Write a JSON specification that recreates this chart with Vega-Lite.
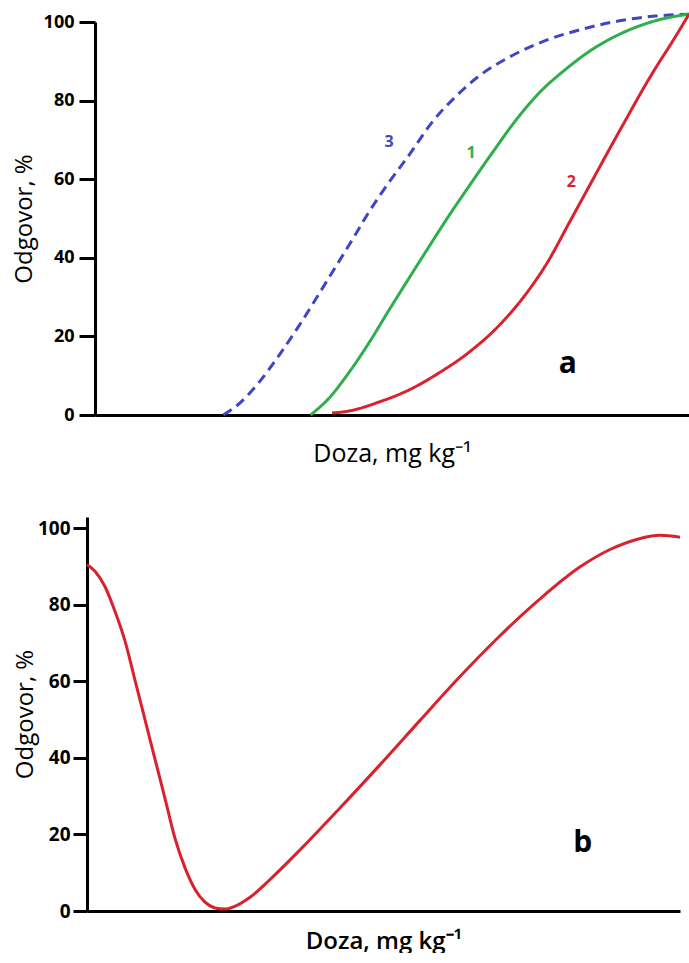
{
  "$schema": "https://vega.github.io/schema/vega-lite/v6.json",
  "background": "white",
  "padding": {"left": 12, "top": 8, "right": 0, "bottom": 0},
  "config": {
    "view": {"stroke": null},
    "font": "Open Sans",
    "axis": {"grid": false, "domainColor": "#000", "domainWidth": 3, "tickColor": "#000", "tickWidth": 3, "labelColor": "#000", "titleColor": "#000", "labelFont": "Open Sans", "titleFont": "Open Sans"}
  },
  "datasets": {
    "curvesA": [
      {"krivulja": "3", "doza": 21.6, "odgovor": 0},
      {"krivulja": "3", "doza": 24.2, "odgovor": 2.8},
      {"krivulja": "3", "doza": 27.5, "odgovor": 8.1},
      {"krivulja": "3", "doza": 30.9, "odgovor": 15.0},
      {"krivulja": "3", "doza": 34.3, "odgovor": 22.6},
      {"krivulja": "3", "doza": 37.7, "odgovor": 30.8},
      {"krivulja": "3", "doza": 41.0, "odgovor": 38.9},
      {"krivulja": "3", "doza": 43.6, "odgovor": 45.3},
      {"krivulja": "3", "doza": 45.6, "odgovor": 50.4},
      {"krivulja": "3", "doza": 48.6, "odgovor": 57.3},
      {"krivulja": "3", "doza": 52.9, "odgovor": 66.2},
      {"krivulja": "3", "doza": 56.8, "odgovor": 74.6},
      {"krivulja": "3", "doza": 60.5, "odgovor": 80.7},
      {"krivulja": "3", "doza": 64.7, "odgovor": 86.3},
      {"krivulja": "3", "doza": 69.8, "odgovor": 91.1},
      {"krivulja": "3", "doza": 75.7, "odgovor": 95.2},
      {"krivulja": "3", "doza": 81.6, "odgovor": 98.0},
      {"krivulja": "3", "doza": 88.3, "odgovor": 100.3},
      {"krivulja": "3", "doza": 94.3, "odgovor": 101.5},
      {"krivulja": "3", "doza": 100, "odgovor": 102.0},
      {"krivulja": "1", "doza": 36.3, "odgovor": 0},
      {"krivulja": "1", "doza": 39.4, "odgovor": 4.3},
      {"krivulja": "1", "doza": 42.7, "odgovor": 10.7},
      {"krivulja": "1", "doza": 46.1, "odgovor": 18.3},
      {"krivulja": "1", "doza": 49.5, "odgovor": 26.7},
      {"krivulja": "1", "doza": 52.9, "odgovor": 34.9},
      {"krivulja": "1", "doza": 56.3, "odgovor": 43.0},
      {"krivulja": "1", "doza": 59.1, "odgovor": 49.6},
      {"krivulja": "1", "doza": 63.0, "odgovor": 58.3},
      {"krivulja": "1", "doza": 67.2, "odgovor": 67.4},
      {"krivulja": "1", "doza": 70.9, "odgovor": 75.1},
      {"krivulja": "1", "doza": 74.8, "odgovor": 82.0},
      {"krivulja": "1", "doza": 79.1, "odgovor": 87.8},
      {"krivulja": "1", "doza": 84.1, "odgovor": 93.4},
      {"krivulja": "1", "doza": 89.2, "odgovor": 97.5},
      {"krivulja": "1", "doza": 94.3, "odgovor": 100.3},
      {"krivulja": "1", "doza": 100, "odgovor": 102.0},
      {"krivulja": "2", "doza": 39.9, "odgovor": 0.5},
      {"krivulja": "2", "doza": 42.7, "odgovor": 1.0},
      {"krivulja": "2", "doza": 47.8, "odgovor": 3.3},
      {"krivulja": "2", "doza": 52.9, "odgovor": 6.4},
      {"krivulja": "2", "doza": 57.9, "odgovor": 10.7},
      {"krivulja": "2", "doza": 63.0, "odgovor": 16.0},
      {"krivulja": "2", "doza": 68.1, "odgovor": 22.9},
      {"krivulja": "2", "doza": 72.3, "odgovor": 30.3},
      {"krivulja": "2", "doza": 76.2, "odgovor": 38.9},
      {"krivulja": "2", "doza": 79.9, "odgovor": 49.1},
      {"krivulja": "2", "doza": 83.3, "odgovor": 58.5},
      {"krivulja": "2", "doza": 86.7, "odgovor": 67.9},
      {"krivulja": "2", "doza": 89.5, "odgovor": 75.5},
      {"krivulja": "2", "doza": 92.1, "odgovor": 82.5},
      {"krivulja": "2", "doza": 94.5, "odgovor": 88.6},
      {"krivulja": "2", "doza": 96.7, "odgovor": 93.8},
      {"krivulja": "2", "doza": 98.5, "odgovor": 98.2},
      {"krivulja": "2", "doza": 100, "odgovor": 102.0}
    ],
    "labelsA": [
      {"krivulja": "3", "doza": 49.5, "odgovor": 69.5},
      {"krivulja": "1", "doza": 63.3, "odgovor": 66.7},
      {"krivulja": "2", "doza": 80.2, "odgovor": 59.3}
    ],
    "panelA": [{"oznaka": "a", "doza": 79.6, "odgovor": 13.0}],
    "curveB": [
      {"doza": 0, "odgovor": 90.6},
      {"doza": 1.35, "odgovor": 88.8},
      {"doza": 3.0, "odgovor": 84.9},
      {"doza": 4.7, "odgovor": 78.4},
      {"doza": 6.4, "odgovor": 70.6},
      {"doza": 8.1, "odgovor": 60.3},
      {"doza": 9.8, "odgovor": 49.9},
      {"doza": 11.5, "odgovor": 39.5},
      {"doza": 13.2, "odgovor": 29.1},
      {"doza": 14.8, "odgovor": 19.2},
      {"doza": 16.5, "odgovor": 11.4},
      {"doza": 18.2, "odgovor": 5.7},
      {"doza": 19.9, "odgovor": 2.3},
      {"doza": 21.6, "odgovor": 0.8},
      {"doza": 23.3, "odgovor": 0.5},
      {"doza": 25.0, "odgovor": 1.3},
      {"doza": 27.5, "odgovor": 3.6},
      {"doza": 30.9, "odgovor": 8.3},
      {"doza": 36.0, "odgovor": 16.1},
      {"doza": 42.7, "odgovor": 27.0},
      {"doza": 49.4, "odgovor": 38.2},
      {"doza": 56.2, "odgovor": 49.9},
      {"doza": 62.9, "odgovor": 61.3},
      {"doza": 69.6, "odgovor": 71.9},
      {"doza": 76.4, "odgovor": 81.6},
      {"doza": 83.1, "odgovor": 89.9},
      {"doza": 88.2, "odgovor": 94.5},
      {"doza": 93.3, "odgovor": 97.4},
      {"doza": 96.6, "odgovor": 98.2},
      {"doza": 100, "odgovor": 97.7}
    ],
    "panelB": [{"oznaka": "b", "doza": 83.6, "odgovor": 17.9}]
  },
  "vconcat": [
    {
      "width": 602,
      "height": 393,
      "layer": [
        {
          "data": {"name": "curvesA"},
          "mark": {"type": "line", "strokeWidth": 3, "interpolate": "monotone"},
          "encoding": {
            "x": {"field": "doza", "type": "quantitative", "scale": {"domain": [0, 100], "range": [8, 602]},
              "axis": {"labels": false, "ticks": false, "title": "Doza, mg kg⁻¹", "titleFontSize": 25, "titleFontWeight": "normal", "titlePadding": 26}},
            "y": {"field": "odgovor", "type": "quantitative", "scale": {"domain": [0, 100]},
              "axis": {"values": [0, 20, 40, 60, 80, 100], "offset": -8, "title": "Odgovor, %", "titleFontSize": 24, "titleFontWeight": "normal", "labelFontSize": 18, "labelFontWeight": "bold", "tickSize": 16, "labelPadding": 5, "titlePadding": 7}},
            "color": {"field": "krivulja", "type": "nominal", "scale": {"domain": ["1", "2", "3"], "range": ["#2fae4e", "#d8222e", "#3d47c4"]}, "legend": null},
            "strokeDash": {"field": "krivulja", "type": "nominal", "scale": {"domain": ["1", "2", "3"], "range": [[1, 0], [1, 0], [10, 6]]}, "legend": null}
          }
        },
        {
          "data": {"name": "labelsA"},
          "mark": {"type": "text", "fontSize": 16, "fontWeight": "bold"},
          "encoding": {
            "x": {"field": "doza", "type": "quantitative"},
            "y": {"field": "odgovor", "type": "quantitative"},
            "text": {"field": "krivulja"},
            "color": {"field": "krivulja", "type": "nominal", "legend": null}
          }
        },
        {
          "data": {"name": "panelA"},
          "mark": {"type": "text", "fontSize": 30, "fontWeight": "bold", "color": "#000"},
          "encoding": {
            "x": {"field": "doza", "type": "quantitative"},
            "y": {"field": "odgovor", "type": "quantitative"},
            "text": {"field": "oznaka"}
          }
        }
      ]
    },
    {
      "width": 593,
      "height": 394,
      "layer": [
        {
          "data": {"name": "curveB"},
          "mark": {"type": "line", "strokeWidth": 3, "interpolate": "monotone", "color": "#d8222e"},
          "encoding": {
            "x": {"field": "doza", "type": "quantitative", "scale": {"domain": [0, 100]},
              "axis": {"labels": false, "ticks": false, "title": "Doza, mg kg⁻¹", "titleFontSize": 24, "titleFontWeight": 600, "titlePadding": 18}},
            "y": {"field": "odgovor", "type": "quantitative", "scale": {"domain": [0, 103], "nice": false},
              "axis": {"values": [0, 20, 40, 60, 80, 100], "title": "Odgovor, %", "titleFontSize": 24, "titleFontWeight": "normal", "labelFontSize": 19, "labelFontWeight": "bold", "tickSize": 14, "labelPadding": 3, "titlePadding": 0}}
          }
        },
        {
          "data": {"name": "panelB"},
          "mark": {"type": "text", "fontSize": 30, "fontWeight": "bold", "color": "#000"},
          "encoding": {
            "x": {"field": "doza", "type": "quantitative"},
            "y": {"field": "odgovor", "type": "quantitative"},
            "text": {"field": "oznaka"}
          }
        }
      ]
    }
  ],
  "spacing": 51
}
